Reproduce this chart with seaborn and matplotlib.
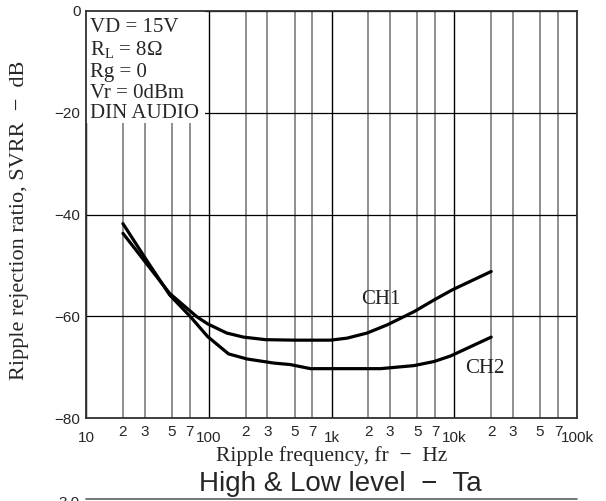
import numpy as np
import pandas as pd
import seaborn as sns
import matplotlib.pyplot as plt
from matplotlib.patches import Rectangle
from matplotlib.ticker import FixedLocator, FixedFormatter

# curve readings (Hz, dB)
freq_ch1 = [20, 31, 48, 80, 98, 140, 192, 290, 500, 980, 1340, 1950, 2840, 4700, 6840, 9660, 20000]
svrr_ch1 = [-43.7, -49.6, -55.5, -60.1, -61.5, -63.3, -64.1, -64.6, -64.7, -64.7, -64.3, -63.3, -61.7, -59.1, -56.8, -54.8, -51.2]

freq_ch2 = [20, 31, 48, 71, 98, 145, 205, 338, 462, 674, 2510, 4700, 6840, 9350, 20000]
svrr_ch2 = [-41.8, -48.9, -55.8, -60.1, -64.0, -67.4, -68.4, -69.2, -69.5, -70.3, -70.3, -69.7, -68.9, -67.8, -64.1]

major_ticks = [10, 100, 1000, 10000, 100000]
major_labels = ['10', '100', '1k', '10k', '100k']
minor_mult = [2, 3, 5, 7]
y_ticks = [0, -20, -40, -60, -80]

conditions = 'VD = 15V\nR$_\\mathrm{L}$ = 8\u03a9\nRg = 0\nVr = 0dBm\nDIN AUDIO'

df = pd.concat([
    pd.DataFrame({'f': freq_ch1, 'svrr': svrr_ch1, 'ch': 'CH1'}),
    pd.DataFrame({'f': freq_ch2, 'svrr': svrr_ch2, 'ch': 'CH2'}),
])

sns.set_style('white')
plt.rcParams['font.family'] = ['Liberation Sans', 'DejaVu Sans']
plt.rcParams['mathtext.fontset'] = 'custom'
plt.rcParams['mathtext.rm'] = 'Liberation Serif'
serif = ['Liberation Serif', 'DejaVu Serif']

fig = plt.figure(figsize=(6.06, 5.01), dpi=100)
ax = fig.add_axes([86 / 606, 83 / 501, 491 / 606, 407 / 501])

sns.lineplot(data=df, x='f', y='svrr', hue='ch', palette=['black', 'black'],
             linewidth=2.3, legend=False, ax=ax, zorder=3, sort=False)

ax.set_xscale('log')
ax.set_xlim(10, 100000)
ax.set_ylim(-80, 0)

minor_pos = [m * d for d in major_ticks[:-1] for m in minor_mult]
ax.xaxis.set_major_locator(FixedLocator(major_ticks))
ax.xaxis.set_major_formatter(FixedFormatter(major_labels))
ax.xaxis.set_minor_locator(FixedLocator(minor_pos))
ax.xaxis.set_minor_formatter(FixedFormatter([str(m) for d in major_ticks[:-1] for m in minor_mult]))
ax.set_yticks(y_ticks)
ax.set_yticklabels(['0'] + ['\u2212%d' % -v for v in y_ticks[1:]])

ax.tick_params(axis='x', which='major', length=0, pad=9, labelsize=11)
ax.tick_params(axis='x', which='minor', length=0, pad=5, labelsize=11)
ax.tick_params(axis='y', length=0, pad=4, labelsize=11)

ax.grid(True, axis='x', which='major', color='black', linewidth=1.0, zorder=0)
ax.grid(True, axis='x', which='minor', color='#707070', linewidth=1.1, zorder=0)
ax.grid(True, axis='y', which='major', color='black', linewidth=0.9, zorder=0)
ax.set_axisbelow(True)
for s in ax.spines.values():
    s.set_color('#303030')
    s.set_linewidth(1.3)

ax.set_xlabel('Ripple frequency, fr  \u2212  Hz', family=serif, fontsize=15.5)
ax.xaxis.set_label_coords(0.5, -0.07)
ax.set_ylabel('Ripple rejection ratio, SVRR  \u2212  dB', family=serif, fontsize=16)
ax.yaxis.set_label_coords(-0.117, 0.485)

# white panel behind the test conditions
ax.add_patch(Rectangle((0, 0.725), 0.242, 0.275, transform=ax.transAxes,
                       facecolor='white', edgecolor='none', zorder=2))
ax.text(0.008, 0.982, conditions, transform=ax.transAxes, ha='left', va='top',
        family=serif, fontsize=15, linespacing=1.13, zorder=5)

ax.text(2500, -56.8, 'CH1', family=serif, fontsize=15, ha='center', va='center', color='#222222')
ax.text(17800, -70.2, 'CH2', family=serif, fontsize=15, ha='center', va='center', color='#222222')

fig.text(340 / 606, 1 - 491 / 501, 'High & Low level  \u2212  Ta', ha='center', va='baseline', fontsize=20)
fig.text(80 / 606, 1 - 496 / 501, '3.0', ha='right', va='top', fontsize=11)
fig.add_artist(plt.Line2D([86 / 606, 577 / 606], [1 - 499 / 501] * 2, color='#606060', linewidth=1.2))

fig.savefig('out.png', dpi=100)
